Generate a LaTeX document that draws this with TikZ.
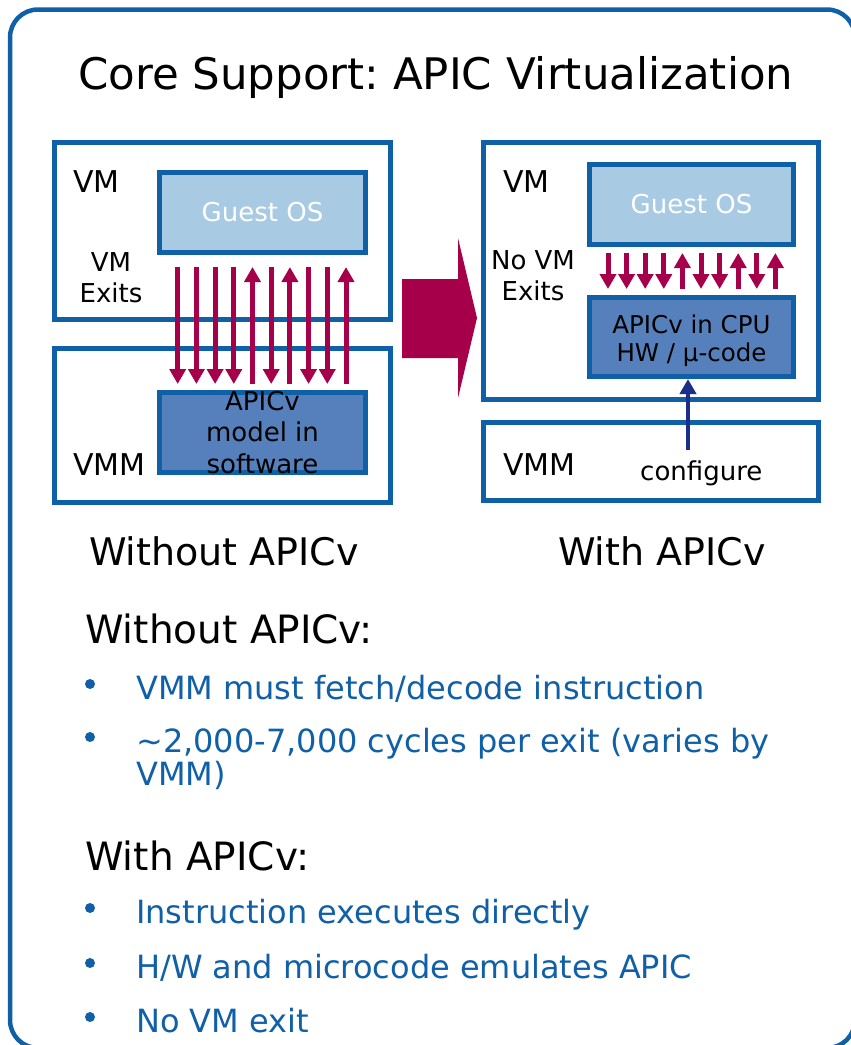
\documentclass[tikz,border=0pt]{standalone}
\usepackage{fontspec}
\setmainfont{DejaVu Sans}
\usetikzlibrary{arrows.meta}
\frenchspacing

\definecolor{frameblue}{RGB}{16,96,168}
\definecolor{guestfill}{RGB}{168,202,226}
\definecolor{apicfill}{RGB}{85,128,187}
\definecolor{exitred}{RGB}{166,0,74}
\definecolor{cfgnavy}{RGB}{26,46,138}
\definecolor{textblue}{RGB}{16,96,168}

\tikzset{
    layerbox/.style={draw=frameblue, line width=5pt, inner sep=0pt},
    guestbox/.style={layerbox, fill=guestfill, text=white, font=\fontsize{26}{31}\selectfont},
    apicbox/.style={layerbox, fill=apicfill},
    lbl/.style={inner sep=0pt, anchor=base west, font=\fontsize{30}{36}\selectfont},
    smalllbl/.style={inner sep=0pt, align=center, font=\fontsize{26}{31}\selectfont},
    caption/.style={inner sep=0pt, anchor=base west, font=\fontsize{38}{46}\selectfont},
    bullettext/.style={inner sep=0pt, anchor=base west, align=left, text=textblue, font=\fontsize{32}{33.5}\selectfont},
    bulletdot/.style={circle, fill=textblue, inner sep=0pt, minimum size=10pt},
    exitarr/.style={draw=exitred, line width=5pt, -{Triangle[width=16pt,length=15pt]}},
    cfgarr/.style={draw=cfgnavy, line width=4.5pt, -{Triangle[width=16pt,length=15pt]}}
}

\begin{document}
\begin{tikzpicture}[x=1pt, y=-1pt]
    \useasboundingbox (0,0) rectangle (851,1045);
    \clip (0,0) rectangle (851,1045);
    \draw[frameblue, line width=4.5pt, rounded corners=28pt] (10,9.5) rectangle (855,1048);

    \node[inner sep=0pt, anchor=base west, font=\fontsize{43.5}{52}\selectfont] (title) at (78,89) {Core Support: APIC Virtualization};

    % without APICv
    \node[layerbox, minimum width=336pt, minimum height=177pt] (vmL) at (222,230.5) {};
    \node[layerbox, minimum width=336pt, minimum height=154pt] (vmmL) at (222,425) {};
    \node[guestbox, minimum width=206pt, minimum height=80pt] (guestL) at (262.5,212.5) {Guest OS};
    \node[apicbox, minimum width=206pt, minimum height=80pt] (apicL) at (262.5,432.5) {};
    \node[smalllbl, font=\fontsize{26}{31.5}\selectfont] (apicLtext) at (apicL.center) {APICv\\model in\\software};
    \node[lbl] (vmLlbl) at (73,192.5) {VM};
    \node[lbl] (vmmLlbl) at (73,475) {VMM};
    \node[smalllbl] (exitsL) at (111,278) {VM\\Exits};
    \foreach \a/\b [count=\i] in {t/b,t/b,t/b,t/b,b/t,t/b,b/t,t/b,t/b,b/t} {
        \coordinate (lt\i) at ({159+18.7*\i},267);
        \coordinate (lb\i) at ({159+18.7*\i},384);
        \draw[exitarr] (l\a\i) -- (l\b\i);
    }

    \fill[exitred] (402,279) -- (458,279) -- (458,238) -- (477,318) -- (458,398) -- (458,358) -- (402,358) -- cycle;

    % with APICv
    \node[layerbox, minimum width=335pt, minimum height=257pt] (vmR) at (651,271) {};
    \node[layerbox, minimum width=335pt, minimum height=78pt] (vmmR) at (651,461.5) {};
    \node[guestbox, minimum width=204pt, minimum height=80pt] (guestR) at (691.5,204.5) {Guest OS};
    \node[apicbox, minimum width=204pt, minimum height=79pt] (cpu) at (691.5,337) {};
    \node[smalllbl, font=\fontsize{24.5}{28}\selectfont] (cputext) at (691.5,340.5) {APICv in CPU\\HW / µ-code};
    \node[lbl] (vmRlbl) at (503,192.5) {VM};
    \node[lbl] (vmmRlbl) at (503,475) {VMM};
    \node[smalllbl] (exitsR) at (533,275.5) {No VM\\Exits};
    \node[smalllbl, anchor=base west] (cfg) at (640,480) {configure};
    \foreach \a/\b [count=\i] in {t/b,t/b,t/b,t/b,b/t,t/b,t/b,b/t,t/b,b/t} {
        \coordinate (rt\i) at ({589.4+18.6*\i},253);
        \coordinate (rb\i) at ({589.4+18.6*\i},289);
        \draw[exitarr] (r\a\i) -- (r\b\i);
    }
    \coordinate (cfgtail) at (688,450);
    \draw[cfgarr] (cfgtail) -- (cfgtail |- cpu.south);

    \node[caption] (capL) at (89,565) {Without APICv};
    \node[caption] (capR) at (558,565) {With APICv};

    % notes
    \node[caption, font=\fontsize{39}{46}\selectfont] (headL) at (85,643) {Without APICv:};
    \node[bulletdot] (d1) at (90,684) {};
    \node[bullettext] (t1) at (136,699) {VMM must fetch/decode instruction};
    \node[bulletdot] (d2) at (90,737) {};
    \node[bullettext] (t2) at (136,785.5) {\textasciitilde2,000-7,000 cycles per exit (varies by\\VMM)};
    \node[caption, font=\fontsize{39}{46}\selectfont] (headR) at (85,870) {With APICv:};
    \node[bulletdot] (d3) at (90,908) {};
    \node[bullettext] (t3) at (136,923) {Instruction executes directly};
    \node[bulletdot] (d4) at (90,963) {};
    \node[bullettext] (t4) at (136,978) {H/W and microcode emulates APIC};
    \node[bulletdot] (d5) at (90,1017) {};
    \node[bullettext] (t5) at (136,1032) {No VM exit};
\end{tikzpicture}
\end{document}
